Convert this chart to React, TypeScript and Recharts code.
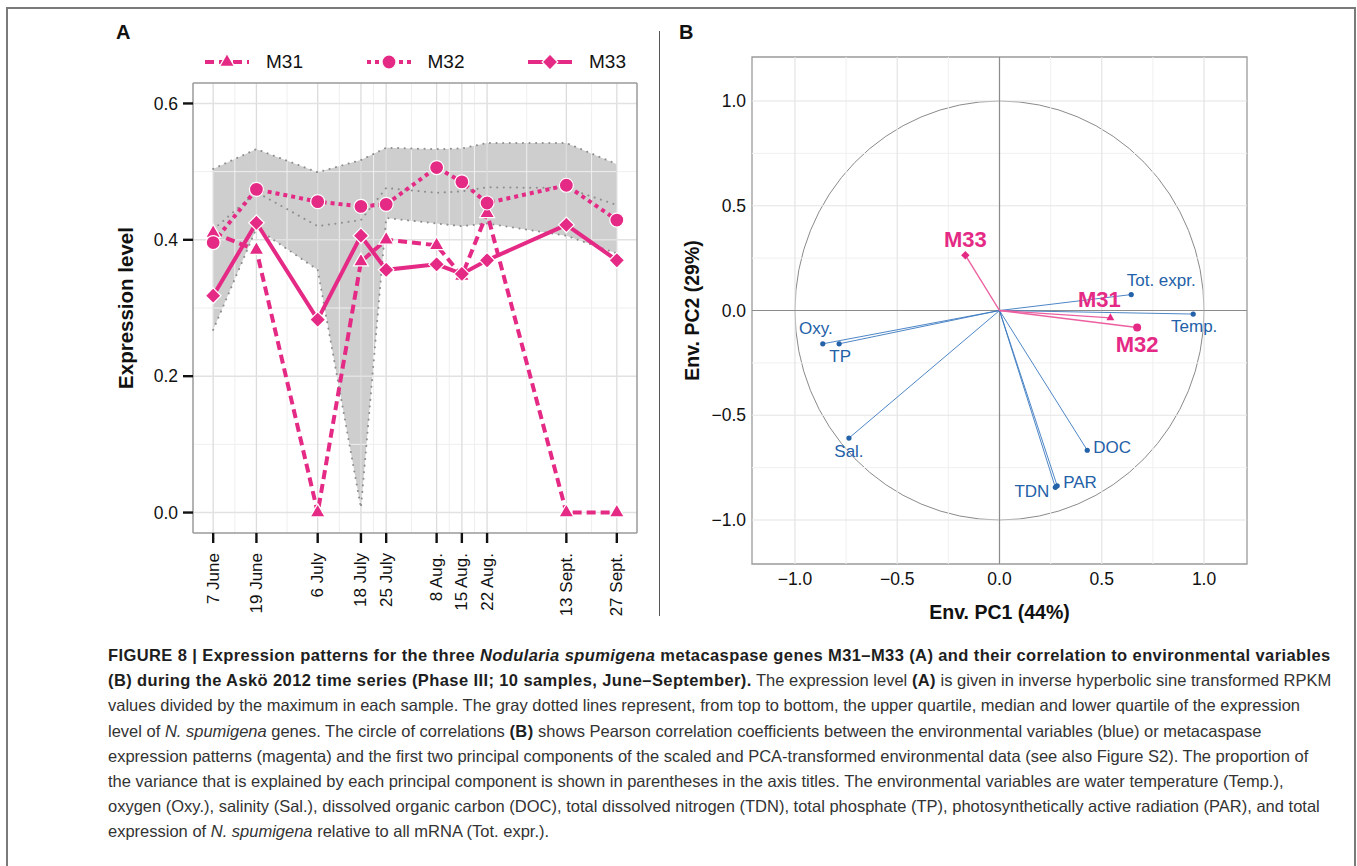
import React from "react"
import {
  ComposedChart,
  ScatterChart,
  Area,
  Line,
  Scatter,
  XAxis,
  YAxis,
  ReferenceLine,
  ReferenceArea,
} from "recharts"

const MAGENTA = "#e52a86"
const BLUE = "#2361a8"
const FONT = "'Liberation Sans', Arial, Helvetica, sans-serif"

// ---- Panel A: expression time series (days after 7 June 2012) ----
const sampleDays = [0, 12, 29, 41, 48, 62, 69, 76, 98, 112]
const sampleLabels = ["7 June", "19 June", "6 July", "18 July", "25 July", "8 Aug.", "15 Aug.", "22 Aug.", "13 Sept.", "27 Sept."]
const m31 = [0.41, 0.385, 0, 0.368, 0.4, 0.392, 0.347, 0.439, 0, 0]
const m32 = [0.396, 0.474, 0.456, 0.449, 0.452, 0.506, 0.485, 0.454, 0.48, 0.429]
const m33 = [0.318, 0.425, 0.283, 0.406, 0.356, 0.364, 0.35, 0.37, 0.422, 0.37]
const upperQuartile = [0.504, 0.533, 0.499, 0.517, 0.535, 0.533, 0.534, 0.542, 0.542, 0.511]
const medianExpr = [0.415, 0.47, 0.42, 0.429, 0.476, 0.469, 0.471, 0.477, 0.476, 0.451]
const lowerQuartile = [0.268, 0.417, 0.356, 0.007, 0.432, 0.424, 0.42, 0.424, 0.406, 0.38]
const exprTicks = [0, 0.2, 0.4, 0.6]
const exprMinor = [0.1, 0.3, 0.5]
const dayDomain = [-5.6, 117.6]
const exprDomain = [-0.03, 0.63]

// ---- Panel B: circle of correlations ----
const envVars = ["Oxy.", "TP", "Sal.", "DOC", "PAR", "TDN", "Temp.", "Tot. expr."]
const envPC1 = [-0.864, -0.784, -0.736, 0.429, 0.282, 0.273, 0.947, 0.644]
const envPC2 = [-0.159, -0.159, -0.609, -0.667, -0.837, -0.844, -0.017, 0.076]
const genes = ["M31", "M32", "M33"]
const genePC1 = [0.542, 0.673, -0.167]
const genePC2 = [-0.035, -0.081, 0.264]
const pcTicks = [-1, -0.5, 0, 0.5, 1]
const pcMinor = [-0.75, -0.25, 0.25, 0.75]
const pcDomain = [-1.21, 1.21]

const timeData = sampleDays.map((day, i) => ({
  day,
  m31: m31[i],
  m32: m32[i],
  m33: m33[i],
  upper: upperQuartile[i],
  median: medianExpr[i],
  lower: lowerQuartile[i],
  band: [lowerQuartile[i], upperQuartile[i]],
}))
const minorDays = sampleDays.slice(1).map((d, i) => (d + sampleDays[i]) / 2)

const envData = envVars.map((name, i) => ({ name, pc1: envPC1[i], pc2: envPC2[i] }))
const geneData = genes.map((name, i) => ({ name, pc1: genePC1[i], pc2: genePC2[i] }))

// label placement (offset in px from the point, text anchor)
const labelPos: Record<string, [number, number, string]> = {
  "Oxy.": [-7, -15, "middle"],
  TP: [1, 13, "middle"],
  "Sal.": [0, 13, "middle"],
  DOC: [6, -3, "start"],
  PAR: [6, -3, "start"],
  TDN: [-6, 4, "end"],
  "Temp.": [1, 12, "middle"],
  "Tot. expr.": [30, -14, "middle"],
  M31: [-11, -18, "middle"],
  M32: [0, 17, "middle"],
  M33: [0, -16, "middle"],
}

const seriesStyle = [
  { key: "m31", name: "M31", dash: "9 5", shape: "triangle" },
  { key: "m32", name: "M32", dash: "4 4", shape: "circle" },
  { key: "m33", name: "M33", dash: undefined, shape: "diamond" },
]

function Marker({ shape, cx, cy, size, fill, stroke = "#fff", sw = 1.2 }: any) {
  if (cx == null || cy == null) return null
  if (shape === "circle") return <circle cx={cx} cy={cy} r={size} fill={fill} stroke={stroke} strokeWidth={sw} />
  if (shape === "diamond")
    return (
      <polygon
        points={`${cx},${cy - size} ${cx + size},${cy} ${cx},${cy + size} ${cx - size},${cy}`}
        fill={fill}
        stroke={stroke}
        strokeWidth={sw}
      />
    )
  const h = size * 0.866
  return (
    <polygon
      points={`${cx},${cy - (2 * h) / 3} ${cx + size / 2},${cy + h / 3} ${cx - size / 2},${cy + h / 3}`}
      fill={fill}
      stroke={stroke}
      strokeWidth={sw}
    />
  )
}

const markerSize: Record<string, number> = { circle: 7, diamond: 7.8, triangle: 15 }

const DateTick = ({ x, y, payload }: any) => {
  const idx = sampleDays.indexOf(payload.value)
  return (
    <text
      x={x}
      y={y}
      transform={`rotate(-90, ${x}, ${y})`}
      textAnchor="end"
      dominantBaseline="central"
      fontSize={17}
      fill="#111"
    >
      {sampleLabels[idx]}
    </text>
  )
}

const SeriesLegend = () => (
  <div style={{ position: "absolute", left: 204, top: 50, display: "flex", fontFamily: FONT }}>
    {seriesStyle.map((s) => (
      <div key={s.key} style={{ display: "flex", alignItems: "center", width: 161.5, flex: "none" }}>
        <svg width={46} height={24}>
          <line x1={1} y1={12} x2={45} y2={12} stroke={MAGENTA} strokeWidth={4} strokeDasharray={s.dash} />
          <Marker shape={s.shape} cx={23} cy={12} size={markerSize[s.shape]} fill={MAGENTA} />
        </svg>
        <span style={{ marginLeft: 16, fontSize: 19, color: "#111" }}>{s.name}</span>
      </div>
    ))}
  </div>
)

const fmtPC = (v: number) => (v < 0 ? "\u2212" : "") + Math.abs(v).toFixed(1)

function PanelA() {
  return (
    <ComposedChart
      width={660}
      height={640}
      data={timeData}
      margin={{ top: 83, right: 23, bottom: 17, left: 133 }}
    >
      {minorDays.map((d) => (
        <ReferenceLine key={"vm" + d} x={d} stroke="#efefef" strokeWidth={1} />
      ))}
      {exprMinor.map((v) => (
        <ReferenceLine key={"hm" + v} y={v} stroke="#efefef" strokeWidth={1} />
      ))}
      {sampleDays.map((d) => (
        <ReferenceLine key={"vM" + d} x={d} stroke="#dcdcdc" strokeWidth={1.3} />
      ))}
      {exprTicks.map((v) => (
        <ReferenceLine key={"hM" + v} y={v} stroke="#e2e2e2" strokeWidth={1.5} />
      ))}
      <XAxis
        type="number"
        dataKey="day"
        domain={dayDomain}
        allowDataOverflow
        ticks={sampleDays}
        interval={0}
        tick={<DateTick />}
        tickSize={10}
        tickMargin={10}
        tickLine={{ stroke: "#111", strokeWidth: 2.4 }}
        axisLine={false}
        height={90}
      />
      <YAxis
        type="number"
        domain={exprDomain}
        allowDataOverflow
        ticks={exprTicks}
        tickFormatter={(v: number) => v.toFixed(1)}
        tick={{ fill: "#111", fontSize: 17.5 }}
        tickSize={10}
        tickMargin={5}
        tickLine={{ stroke: "#111", strokeWidth: 2.4 }}
        axisLine={false}
        width={60}
        label={{
          value: "Expression level",
          angle: -90,
          position: "left",
          offset: 7,
          style: { textAnchor: "middle", fontWeight: "bold", fontSize: 20.5, fill: "#111" },
        }}
      />
      <Area
        type="linear"
        dataKey="band"
        stroke="none"
        fill="#9e9e9e"
        fillOpacity={0.5}
        isAnimationActive={false}
      />
      {["upper", "median", "lower"].map((k) => (
        <Line
          key={k}
          type="linear"
          dataKey={k}
          stroke="#8f8f8f"
          strokeWidth={2}
          strokeDasharray="0.1 6.5"
          strokeLinecap="round"
          dot={false}
          activeDot={false}
          isAnimationActive={false}
        />
      ))}
      {seriesStyle.map((s) => (
        <Line
          key={s.key}
          type="linear"
          dataKey={s.key}
          stroke={MAGENTA}
          strokeWidth={4}
          strokeDasharray={s.dash}
          dot={(p: any) => (
            <Marker key={s.key + p.index} shape={s.shape} cx={p.cx} cy={p.cy} size={markerSize[s.shape]} fill={MAGENTA} />
          )}
          activeDot={false}
          isAnimationActive={false}
        />
      ))}
      {/* panel border */}
      {dayDomain.map((d) => (
        <ReferenceLine key={"bx" + d} x={d} stroke="#9a9a9a" strokeWidth={1.5} ifOverflow="visible" />
      ))}
      {exprDomain.map((v) => (
        <ReferenceLine key={"by" + v} y={v} stroke="#9a9a9a" strokeWidth={1.5} ifOverflow="visible" />
      ))}
    </ComposedChart>
  )
}

const CircleShape = (p: any) => (
  <ellipse
    cx={p.x + p.width / 2}
    cy={p.y + p.height / 2}
    rx={Math.abs(p.width) / 2}
    ry={Math.abs(p.height) / 2}
    fill="none"
    stroke="#8a8a8a"
    strokeWidth={1}
  />
)

const PointLabel = ({ cx, cy, name, color, bold }: any) => {
  const [dx, dy, anchor] = labelPos[name]
  return (
    <text
      x={cx + dx}
      y={cy + dy}
      textAnchor={anchor}
      dominantBaseline="central"
      fill={color}
      fontSize={bold ? 22 : 17}
      fontWeight={bold ? "bold" : "normal"}
    >
      {name}
    </text>
  )
}

const EnvShape = (p: any) => (
  <g>
    <circle cx={p.cx} cy={p.cy} r={2.6} fill={BLUE} />
    <PointLabel cx={p.cx} cy={p.cy} name={p.payload.name} color={BLUE} />
  </g>
)

const geneShapes: Record<string, string> = { M31: "triangle", M32: "circle", M33: "diamond" }
const geneSizes: Record<string, number> = { triangle: 8, circle: 4, diamond: 4.2 }

const GeneShape = (p: any) => {
  const shape = geneShapes[p.payload.name]
  return (
    <g>
      <Marker shape={shape} cx={p.cx} cy={p.cy} size={geneSizes[shape]} fill={MAGENTA} stroke="none" sw={0} />
      <PointLabel cx={p.cx} cy={p.cy} name={p.payload.name} color={MAGENTA} bold />
    </g>
  )
}

function PanelB() {
  return (
    <ScatterChart width={697} height={640} margin={{ top: 57, right: 110, bottom: 16, left: 32 }}>
      {pcMinor.map((v) => (
        <ReferenceLine key={"vm" + v} x={v} stroke="#f0f0f0" strokeWidth={1} />
      ))}
      {pcMinor.map((v) => (
        <ReferenceLine key={"hm" + v} y={v} stroke="#f0f0f0" strokeWidth={1} />
      ))}
      {pcTicks.map((v) => (
        <ReferenceLine key={"vM" + v} x={v} stroke="#e4e4e4" strokeWidth={1.2} />
      ))}
      {pcTicks.map((v) => (
        <ReferenceLine key={"hM" + v} y={v} stroke="#e4e4e4" strokeWidth={1.2} />
      ))}
      <ReferenceArea x1={-1} x2={1} y1={-1} y2={1} shape={<CircleShape />} ifOverflow="visible" />
      <ReferenceLine x={0} stroke="#8c8c8c" strokeWidth={1.2} />
      <ReferenceLine y={0} stroke="#8c8c8c" strokeWidth={1.2} />
      {envData.map((d) => (
        <ReferenceLine
          key={"ea" + d.name}
          segment={[{ x: 0, y: 0 }, { x: d.pc1, y: d.pc2 }]}
          stroke="#3a78c0"
          strokeWidth={0.9}
        />
      ))}
      {geneData.map((d) => (
        <ReferenceLine
          key={"ga" + d.name}
          segment={[{ x: 0, y: 0 }, { x: d.pc1, y: d.pc2 }]}
          stroke="#ec5fa0"
          strokeWidth={1.4}
        />
      ))}
      <XAxis
        type="number"
        dataKey="pc1"
        domain={pcDomain}
        allowDataOverflow
        ticks={pcTicks}
        interval={0}
        tickFormatter={fmtPC}
        tick={{ fill: "#111", fontSize: 17.5 }}
        tickLine={false}
        tickSize={0}
        tickMargin={9}
        axisLine={false}
        height={60}
        label={{
          value: "Env. PC1 (44%)",
          position: "insideBottom",
          offset: 5,
          style: { fontWeight: "bold", fontSize: 19.5, fill: "#111" },
        }}
      />
      <YAxis
        type="number"
        dataKey="pc2"
        domain={pcDomain}
        allowDataOverflow
        ticks={pcTicks}
        interval={0}
        tickFormatter={fmtPC}
        tick={{ fill: "#111", fontSize: 17.5 }}
        tickLine={false}
        tickSize={0}
        tickMargin={6}
        axisLine={false}
        width={60}
        label={{
          value: "Env. PC2 (29%)",
          angle: -90,
          position: "left",
          offset: 0,
          style: { textAnchor: "middle", fontWeight: "bold", fontSize: 19.5, fill: "#111" },
        }}
      />
      <Scatter data={envData} shape={EnvShape} isAnimationActive={false} />
      <Scatter data={geneData} shape={GeneShape} isAnimationActive={false} />
      <ReferenceArea
        x1={pcDomain[0]}
        x2={pcDomain[1]}
        y1={pcDomain[0]}
        y2={pcDomain[1]}
        fill="none"
        stroke="#9a9a9a"
        strokeWidth={1.3}
        ifOverflow="visible"
      />
    </ScatterChart>
  )
}

const capLine: React.CSSProperties = { whiteSpace: "nowrap" }
const bold: React.CSSProperties = { fontWeight: "bold", color: "#1e1e1e", letterSpacing: 0.4 }

export default function App() {
  return (
    <div
      style={{
        position: "absolute",
        left: 0,
        top: 0,
        width: 1357,
        height: 866,
        background: "#fff",
        fontFamily: FONT,
        overflow: "hidden",
      }}
    >
      <div
        style={{
          position: "absolute",
          left: 6,
          top: 7,
          width: 1346,
          height: 900,
          borderLeft: "2px solid #7a7a7a",
          borderTop: "2px solid #7a7a7a",
          borderRight: "2px solid #7a7a7a",
        }}
      />
      <div style={{ position: "absolute", left: 0, top: 0 }}>
        <PanelA />
      </div>
      <SeriesLegend />
      <div style={{ position: "absolute", left: 660, top: 0 }}>
        <PanelB />
      </div>
      <div style={{ position: "absolute", left: 116, top: 21, fontWeight: "bold", fontSize: 20, color: "#111" }}>A</div>
      <div style={{ position: "absolute", left: 679, top: 21, fontWeight: "bold", fontSize: 20, color: "#111" }}>B</div>
      <div style={{ position: "absolute", left: 659, top: 31, width: 1, height: 585, background: "#555" }} />
      <div
        style={{
          position: "absolute",
          left: 108,
          top: 643,
          fontSize: 16.5,
          lineHeight: "25.2px",
          color: "#333",
        }}
      >
        <div style={capLine}>
          <span style={bold}>
            FIGURE 8 | Expression patterns for the three <i>Nodularia spumigena</i> metacaspase genes M31–M33 (A) and
            their correlation to environmental variables
          </span>
        </div>
        <div style={capLine}>
          <span style={bold}>(B) during the Askö 2012 time series (Phase III; 10 samples, June–September).</span> The
          expression level <span style={bold}>(A)</span> is given in inverse hyperbolic sine transformed RPKM
        </div>
        <div style={capLine}>
          values divided by the maximum in each sample. The gray dotted lines represent, from top to bottom, the upper
          quartile, median and lower quartile of the expression
        </div>
        <div style={capLine}>
          level of <i>N. spumigena</i> genes. The circle of correlations <span style={bold}>(B)</span> shows Pearson
          correlation coefficients between the environmental variables (blue) or metacaspase
        </div>
        <div style={capLine}>
          expression patterns (magenta) and the first two principal components of the scaled and PCA-transformed
          environmental data (see also Figure S2). The proportion of
        </div>
        <div style={capLine}>
          the variance that is explained by each principal component is shown in parentheses in the axis titles. The
          environmental variables are water temperature (Temp.),
        </div>
        <div style={capLine}>
          oxygen (Oxy.), salinity (Sal.), dissolved organic carbon (DOC), total dissolved nitrogen (TDN), total phosphate
          (TP), photosynthetically active radiation (PAR), and total
        </div>
        <div style={capLine}>
          expression of <i>N. spumigena</i> relative to all mRNA (Tot. expr.).
        </div>
      </div>
    </div>
  )
}
